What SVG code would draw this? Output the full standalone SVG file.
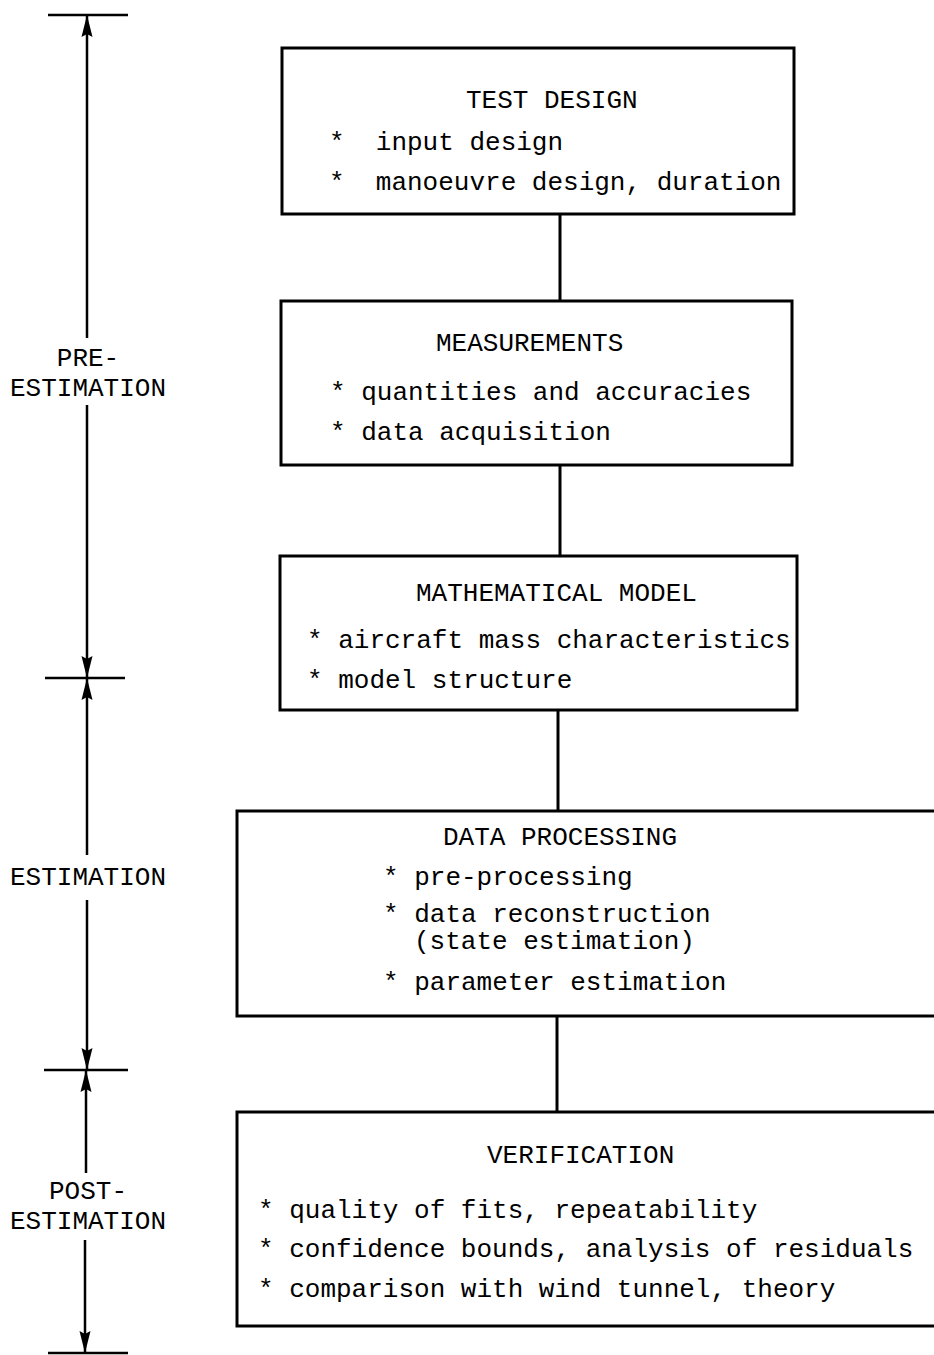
<svg xmlns="http://www.w3.org/2000/svg" width="934" height="1355" viewBox="0 0 934 1355">
  <style>
    .box { fill: #ffffff; stroke: #000000; stroke-width: 3; }
    .link { stroke: #000000; stroke-width: 3; fill: none; }
    .axis { stroke: #000000; stroke-width: 2.5; fill: none; }
    .tick { stroke: #000000; stroke-width: 2.5; fill: none; }
    text { font-family: "Liberation Mono", "DejaVu Sans Mono", monospace; font-size: 26px; fill: #000000; white-space: pre; }
    .mid { text-anchor: middle; }
  </style>
  <defs>
    <marker id="arrow" viewBox="0 0 22 12" refX="22" refY="6" markerWidth="22" markerHeight="12" markerUnits="userSpaceOnUse" orient="auto">
      <path d="M0,0.5 L22,6 L0,11.5 L3,6 Z" fill="#000000"/>
    </marker>
  </defs>

  <!-- phase axis on the left -->
  <g id="phase-axis">
    <line class="tick" x1="48" y1="15" x2="128" y2="15"/>
    <line class="tick" x1="45" y1="678" x2="125" y2="678"/>
    <line class="tick" x1="44" y1="1070" x2="128" y2="1070"/>
    <line class="tick" x1="48" y1="1353" x2="128" y2="1353"/>

    <line class="axis" x1="87" y1="338" x2="87" y2="15" marker-end="url(#arrow)"/>
    <line class="axis" x1="87" y1="405" x2="87" y2="678" marker-end="url(#arrow)"/>
    <line class="axis" x1="87" y1="855" x2="87" y2="678" marker-end="url(#arrow)"/>
    <line class="axis" x1="87" y1="900" x2="87" y2="1070" marker-end="url(#arrow)"/>
    <line class="axis" x1="86" y1="1173" x2="86" y2="1070" marker-end="url(#arrow)"/>
    <line class="axis" x1="85" y1="1240" x2="85" y2="1353" marker-end="url(#arrow)"/>

    <text id="label-pre" class="mid" x="88" y="366">PRE-<tspan x="88" dy="30">ESTIMATION</tspan></text>
    <text id="label-est" class="mid" x="88" y="885">ESTIMATION</text>
    <text id="label-post" class="mid" x="88" y="1199">POST-<tspan x="88" dy="30">ESTIMATION</tspan></text>
  </g>

  <!-- connectors between stages -->
  <g id="connectors">
    <line class="link" x1="560" y1="214" x2="560" y2="301"/>
    <line class="link" x1="560" y1="465" x2="560" y2="556"/>
    <line class="link" x1="558" y1="710" x2="558" y2="811"/>
    <line class="link" x1="557" y1="1016" x2="557" y2="1112"/>
  </g>

  <g id="test-design">
    <rect class="box" x="282" y="48" width="512" height="166"/>
    <text x="466" y="108">TEST DESIGN</text>
    <text x="329" y="150">*  input design</text>
    <text x="329" y="190">*  manoeuvre design, duration</text>
  </g>

  <g id="measurements">
    <rect class="box" x="281" y="301" width="511" height="164"/>
    <text x="436" y="351">MEASUREMENTS</text>
    <text x="330" y="400">* quantities and accuracies</text>
    <text x="330" y="440">* data acquisition</text>
  </g>

  <g id="mathematical-model">
    <rect class="box" x="280" y="556" width="517" height="154"/>
    <text x="416" y="601">MATHEMATICAL MODEL</text>
    <text x="307" y="648">* aircraft mass characteristics</text>
    <text x="307" y="688">* model structure</text>
  </g>

  <g id="data-processing">
    <rect class="box" x="237" y="811" width="710" height="205"/>
    <text x="443" y="845">DATA PROCESSING</text>
    <text x="383" y="885">* pre-processing</text>
    <text x="383" y="922">* data reconstruction<tspan x="414" dy="27">(state estimation)</tspan></text>
    <text x="383" y="990">* parameter estimation</text>
  </g>

  <g id="verification">
    <rect class="box" x="237" y="1112" width="710" height="214"/>
    <text x="487" y="1163">VERIFICATION</text>
    <text x="258" y="1218">* quality of fits, repeatability</text>
    <text x="258" y="1257">* confidence bounds, analysis of residuals</text>
    <text x="258" y="1297">* comparison with wind tunnel, theory</text>
  </g>
</svg>
